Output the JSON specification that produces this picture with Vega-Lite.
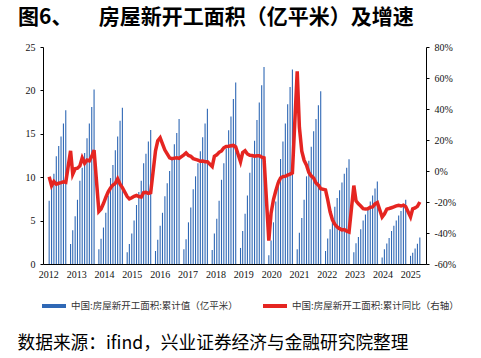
{
  "$schema": "https://vega.github.io/schema/vega-lite/v6.json",
  "width": 383,
  "height": 217,
  "autosize": {"type": "none"},
  "padding": {"left": 43, "top": 47, "right": 55, "bottom": 94},
  "background": "white",
  "title": {
    "text": "图6、\u3000\u2002\u2005房屋新开工面积（亿平米）及增速",
    "anchor": "start",
    "frame": "group",
    "orient": "top",
    "font": "Noto Sans CJK SC",
    "fontSize": 21,
    "fontWeight": "bold",
    "color": "#000000",
    "dx": -25,
    "offset": 3,
    "baseline": "middle"
  },
  "config": {
    "view": {"stroke": null},
    "axis": {"grid": false, "domainColor": "#000000", "tickColor": "#000000", "labelColor": "#111111", "labelFont": "Liberation Serif", "labelFontSize": 10}
  },
  "data": {"values": [
    {"d":"2012-05-15","v":7.3,"yoy":-3.7},{"d":"2012-06-15","v":9.6,"yoy":-9.5},{"d":"2012-07-15","v":10.4,"yoy":-6.8},{"d":"2012-08-15","v":12.4,"yoy":-8.5},{"d":"2012-09-15","v":13.6,"yoy":-7.9},{"d":"2012-10-15","v":14.7,"yoy":-7.5},{"d":"2012-11-15","v":16.2,"yoy":-7.0},{"d":"2012-12-15","v":17.7,"yoy":-7.3},
    {"d":"2013-02-15","v":2.3,"yoy":13.0},{"d":"2013-03-15","v":3.9,"yoy":-2.0},{"d":"2013-04-15","v":5.5,"yoy":1.5},{"d":"2013-05-15","v":7.4,"yoy":1.8},{"d":"2013-06-15","v":9.6,"yoy":3.3},{"d":"2013-07-15","v":11.1,"yoy":8.5},{"d":"2013-08-15","v":12.8,"yoy":5.0},{"d":"2013-09-15","v":14.5,"yoy":7.0},{"d":"2013-10-15","v":16.2,"yoy":6.5},{"d":"2013-11-15","v":18.1,"yoy":9.5},{"d":"2013-12-15","v":20.1,"yoy":13.5},
    {"d":"2014-02-15","v":1.7,"yoy":-26.0},{"d":"2014-03-15","v":2.9,"yoy":-24.5},{"d":"2014-04-15","v":4.2,"yoy":-21.0},{"d":"2014-05-15","v":5.9,"yoy":-17.0},{"d":"2014-06-15","v":7.9,"yoy":-13.5},{"d":"2014-07-15","v":9.9,"yoy":-11.0},{"d":"2014-08-15","v":11.4,"yoy":-9.0},{"d":"2014-09-15","v":13.1,"yoy":-8.0},{"d":"2014-10-15","v":14.7,"yoy":-5.0},{"d":"2014-11-15","v":16.5,"yoy":-8.5},{"d":"2014-12-15","v":18.0,"yoy":-10.7},
    {"d":"2015-02-15","v":1.35,"yoy":-16.5},{"d":"2015-03-15","v":2.3,"yoy":-18.0},{"d":"2015-04-15","v":3.5,"yoy":-17.3},{"d":"2015-05-15","v":5.0,"yoy":-16.3},{"d":"2015-06-15","v":6.8,"yoy":-15.8},{"d":"2015-07-15","v":8.3,"yoy":-16.5},{"d":"2015-08-15","v":9.6,"yoy":-16.8},{"d":"2015-09-15","v":11.6,"yoy":-14.0},{"d":"2015-10-15","v":12.7,"yoy":-13.8},{"d":"2015-11-15","v":14.1,"yoy":-14.4},{"d":"2015-12-15","v":15.45,"yoy":-14.0},
    {"d":"2016-02-15","v":1.5,"yoy":13.0},{"d":"2016-03-15","v":2.8,"yoy":19.5},{"d":"2016-04-15","v":4.4,"yoy":21.5},{"d":"2016-05-15","v":5.9,"yoy":17.5},{"d":"2016-06-15","v":7.8,"yoy":13.5},{"d":"2016-07-15","v":9.3,"yoy":11.0},{"d":"2016-08-15","v":10.7,"yoy":8.5},{"d":"2016-09-15","v":12.2,"yoy":8.0},{"d":"2016-10-15","v":13.8,"yoy":8.3},{"d":"2016-11-15","v":15.1,"yoy":8.5},{"d":"2016-12-15","v":16.7,"yoy":8.1},
    {"d":"2017-02-15","v":1.7,"yoy":10.4},{"d":"2017-03-15","v":2.85,"yoy":11.6},{"d":"2017-04-15","v":4.8,"yoy":10.0},{"d":"2017-05-15","v":6.5,"yoy":9.5},{"d":"2017-06-15","v":8.6,"yoy":8.0},{"d":"2017-07-15","v":10.1,"yoy":7.5},{"d":"2017-08-15","v":11.6,"yoy":7.0},{"d":"2017-09-15","v":13.0,"yoy":6.3},{"d":"2017-10-15","v":14.6,"yoy":6.5},{"d":"2017-11-15","v":16.2,"yoy":6.0},{"d":"2017-12-15","v":17.9,"yoy":6.0},
    {"d":"2018-02-15","v":1.6,"yoy":2.9},{"d":"2018-03-15","v":3.5,"yoy":9.5},{"d":"2018-04-15","v":5.2,"yoy":10.4},{"d":"2018-05-15","v":7.3,"yoy":12.0},{"d":"2018-06-15","v":9.7,"yoy":13.0},{"d":"2018-07-15","v":11.6,"yoy":15.0},{"d":"2018-08-15","v":13.3,"yoy":15.8},{"d":"2018-09-15","v":15.4,"yoy":16.0},{"d":"2018-10-15","v":17.0,"yoy":16.3},{"d":"2018-11-15","v":19.0,"yoy":16.5},{"d":"2018-12-15","v":20.9,"yoy":15.5},
    {"d":"2019-02-15","v":1.85,"yoy":6.0},{"d":"2019-03-15","v":3.8,"yoy":11.9},{"d":"2019-04-15","v":5.8,"yoy":13.1},{"d":"2019-05-15","v":7.9,"yoy":11.0},{"d":"2019-06-15","v":10.5,"yoy":10.1},{"d":"2019-07-15","v":12.3,"yoy":10.0},{"d":"2019-08-15","v":14.2,"yoy":9.5},{"d":"2019-09-15","v":16.6,"yoy":9.8},{"d":"2019-10-15","v":18.6,"yoy":9.8},{"d":"2019-11-15","v":20.6,"yoy":9.0},{"d":"2019-12-15","v":22.7,"yoy":8.5},
    {"d":"2020-02-15","v":1.0,"yoy":-44.9},{"d":"2020-03-15","v":2.7,"yoy":-27.2},{"d":"2020-04-15","v":4.8,"yoy":-18.4},{"d":"2020-05-15","v":7.2,"yoy":-12.8},{"d":"2020-06-15","v":9.7,"yoy":-7.6},{"d":"2020-07-15","v":12.1,"yoy":-4.5},{"d":"2020-08-15","v":14.1,"yoy":-3.6},{"d":"2020-09-15","v":16.2,"yoy":-3.4},{"d":"2020-10-15","v":18.4,"yoy":-2.6},{"d":"2020-11-15","v":20.4,"yoy":-2.0},{"d":"2020-12-15","v":22.4,"yoy":-1.2},
    {"d":"2021-02-15","v":1.7,"yoy":64.3},{"d":"2021-03-15","v":3.6,"yoy":28.2},{"d":"2021-04-15","v":5.3,"yoy":12.8},{"d":"2021-05-15","v":7.4,"yoy":6.9},{"d":"2021-06-15","v":10.1,"yoy":3.8},{"d":"2021-07-15","v":11.9,"yoy":-0.9},{"d":"2021-08-15","v":13.5,"yoy":-3.2},{"d":"2021-09-15","v":15.3,"yoy":-4.5},{"d":"2021-10-15","v":16.7,"yoy":-7.7},{"d":"2021-11-15","v":18.3,"yoy":-9.1},{"d":"2021-12-15","v":19.9,"yoy":-11.4},
    {"d":"2022-02-15","v":1.5,"yoy":-12.2},{"d":"2022-03-15","v":2.95,"yoy":-18.5},{"d":"2022-04-15","v":4.0,"yoy":-26.3},{"d":"2022-05-15","v":5.2,"yoy":-31.5},{"d":"2022-06-15","v":6.6,"yoy":-34.4},{"d":"2022-07-15","v":7.6,"yoy":-36.1},{"d":"2022-08-15","v":8.5,"yoy":-37.2},{"d":"2022-09-15","v":9.4,"yoy":-38.0},{"d":"2022-10-15","v":10.4,"yoy":-37.8},{"d":"2022-11-15","v":11.1,"yoy":-38.9},{"d":"2022-12-15","v":12.06,"yoy":-39.4},
    {"d":"2023-02-15","v":1.36,"yoy":-9.4},{"d":"2023-03-15","v":2.4,"yoy":-19.2},{"d":"2023-04-15","v":3.1,"yoy":-21.2},{"d":"2023-05-15","v":4.0,"yoy":-22.6},{"d":"2023-06-15","v":5.0,"yoy":-24.3},{"d":"2023-07-15","v":5.7,"yoy":-24.5},{"d":"2023-08-15","v":6.3,"yoy":-24.4},{"d":"2023-09-15","v":7.2,"yoy":-23.4},{"d":"2023-10-15","v":7.9,"yoy":-23.2},{"d":"2023-11-15","v":8.7,"yoy":-21.2},{"d":"2023-12-15","v":9.5,"yoy":-20.4},
    {"d":"2024-02-15","v":0.74,"yoy":-29.7},{"d":"2024-03-15","v":1.7,"yoy":-27.8},{"d":"2024-04-15","v":2.35,"yoy":-24.6},{"d":"2024-05-15","v":3.0,"yoy":-24.2},{"d":"2024-06-15","v":3.8,"yoy":-23.7},{"d":"2024-07-15","v":4.4,"yoy":-23.2},{"d":"2024-08-15","v":5.0,"yoy":-22.5},{"d":"2024-09-15","v":5.6,"yoy":-22.2},{"d":"2024-10-15","v":6.1,"yoy":-22.6},{"d":"2024-11-15","v":6.7,"yoy":-22.0},{"d":"2024-12-15","v":7.4,"yoy":-23.0},
    {"d":"2025-02-15","v":0.94,"yoy":-29.6},{"d":"2025-03-15","v":1.3,"yoy":-24.4},{"d":"2025-04-15","v":1.78,"yoy":-23.8},{"d":"2025-05-15","v":2.32,"yoy":-22.8},{"d":"2025-06-15","v":3.04,"yoy":-20.0}
  ]},
  "encoding": {
    "x": {
      "field": "d", "type": "temporal",
      "scale": {"domain": [{"year": 2012, "month": 4, "date": 30}, {"year": 2025, "month": 6, "date": 30}], "nice": false},
      "axis": {
        "orient": "bottom",
        "values": [
          {"year": 2012, "month": 5, "date": 4}, {"year": 2013, "month": 4, "date": 28}, {"year": 2014, "month": 4, "date": 22},
          {"year": 2015, "month": 4, "date": 16}, {"year": 2016, "month": 4, "date": 9}, {"year": 2017, "month": 4, "date": 3},
          {"year": 2018, "month": 3, "date": 28}, {"year": 2019, "month": 3, "date": 22}, {"year": 2020, "month": 3, "date": 16},
          {"year": 2021, "month": 3, "date": 9}, {"year": 2022, "month": 3, "date": 3}, {"year": 2023, "month": 2, "date": 25},
          {"year": 2024, "month": 2, "date": 19}, {"year": 2025, "month": 2, "date": 12}
        ],
        "labelExpr": "timeFormat(datum.value, '%Y')",
        "ticks": false,
        "labelFlush": false,
        "labelOverlap": false,
        "labelPadding": 5,
        "title": "数据来源：ifind，兴业证券经济与金融研究院整理",
        "titleX": -26,
        "titleY": 79,
        "titleAlign": "left",
        "titleAnchor": "start",
        "titleBaseline": "middle",
        "titleFont": "Noto Sans CJK SC",
        "titleFontSize": 17.7,
        "titleFontWeight": "normal",
        "titleColor": "#000000"
      }
    }
  },
  "layer": [
    {
      "mark": {"type": "bar", "size": 1.1},
      "encoding": {
        "y": {
          "field": "v", "type": "quantitative",
          "scale": {"domain": [0, 25], "nice": false},
          "axis": {"orient": "left", "values": [0, 5, 10, 15, 20, 25], "tickSize": 3, "labelPadding": 5, "title": null}
        },
        "color": {
          "datum": "中国:房屋新开工面积:累计值（亿平米）", "type": "nominal",
          "scale": {"domain": ["中国:房屋新开工面积:累计值（亿平米）", "中国:房屋新开工面积:累计同比（右轴）"], "range": ["#2f68b5", "#e52521"]},
          "legend": {
            "orient": "none", "legendX": -3, "legendY": 245, "direction": "horizontal", "title": null,
            "symbolType": "stroke", "symbolStrokeWidth": 4, "symbolSize": 576,
            "labelFont": "Noto Sans CJK SC", "labelFontSize": 9.5, "labelColor": "#333333", "labelLimit": 400,
            "labelOffset": 3, "columnPadding": 17
          }
        }
      }
    },
    {
      "mark": {"type": "line", "strokeWidth": 3.5, "interpolate": "linear"},
      "encoding": {
        "y": {
          "field": "yoy", "type": "quantitative",
          "scale": {"domain": [-60, 80], "nice": false},
          "axis": {"orient": "right", "values": [-60, -40, -20, 0, 20, 40, 60, 80], "labelExpr": "datum.value + '%'", "tickSize": 3, "labelPadding": 5, "title": null}
        },
        "color": {"datum": "中国:房屋新开工面积:累计同比（右轴）", "type": "nominal"}
      }
    }
  ],
  "resolve": {"scale": {"y": "independent"}}
}
